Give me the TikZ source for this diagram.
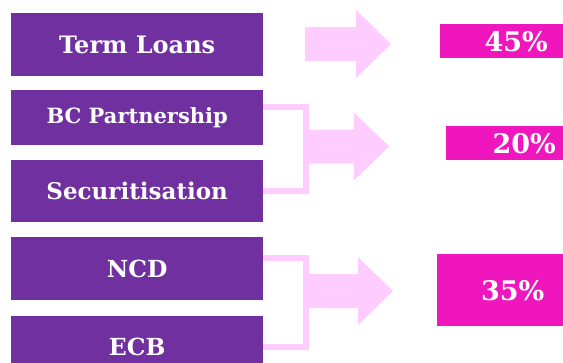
\documentclass[tikz,border=0pt]{standalone}
\usepackage{fontspec}
\setmainfont{DejaVu Serif}
\definecolor{srcpurple}{rgb}{0.4392156862745098,0.18823529411764706,0.6274509803921569}
\definecolor{arrowpink}{rgb}{1,0.8,1}
\definecolor{sharemag}{rgb}{0.9411764705882353,0.08627450980392157,0.7450980392156863}
\newcommand\bigarrow[1]{\fill[arrowpink] (#1) ++(0,-17) -- ++(51,0) -- ++(0,-17) -- ++(35,34) -- ++(-35,34) -- ++(0,-17) -- ++(-51,0) -- cycle;}

\begin{document}
\begin{tikzpicture}[x=1pt,y=-1pt,
	src/.style={fill=srcpurple,text=white,font=\bfseries,minimum width=252pt,inner sep=0pt,anchor=north west},
	share/.style={fill=sharemag,text=white,font=\bfseries\fontsize{27}{32}\selectfont,inner sep=0pt,anchor=north west},
	bracket/.style={arrowpink,line width=6pt}]
\useasboundingbox (0,0) rectangle (563,362);
\clip (0,0) rectangle (563,362);

\node[src,minimum height=63pt,font=\bfseries\fontsize{24}{28}\selectfont] (tl) at (11,13) {Term Loans};
\node[src,minimum height=55pt,font=\bfseries\fontsize{21}{25}\selectfont] (bc) at (11,90) {BC Partnership};
\node[src,minimum height=62pt,font=\bfseries\fontsize{23}{27}\selectfont] (sec) at (11,160) {Securitisation};
\node[src,minimum height=63pt,font=\bfseries\fontsize{23.5}{28}\selectfont] (ncd) at (11,237) {NCD};
\node[src,minimum height=62pt,font=\bfseries\fontsize{23.5}{28}\selectfont] (ecb) at (11,316) {ECB};

\node[share,minimum width=152pt,minimum height=34pt] (p45) at (440,24) {45\%};
\node[share,minimum width=156pt,minimum height=34pt] (p20) at (446,126) {20\%};
\node[share,minimum width=151pt,minimum height=72pt] (p35) at (437,254) {35\%};

\coordinate (j2) at (306,150);
\coordinate (j3) at (306,300);
\draw[bracket] ([yshift=10.5pt]bc.east) -| (j2) |- (sec.east);
\draw[bracket] ([yshift=10.5pt]ncd.east) -| (j3) |- (ecb.east);

\coordinate (a1) at (305,44);
\coordinate (a2) at (303,146.5);
\coordinate (a3) at (307,291);
\foreach \a in {a1,a2,a3}{
	\bigarrow{\a}
}

\end{tikzpicture}
\end{document}
